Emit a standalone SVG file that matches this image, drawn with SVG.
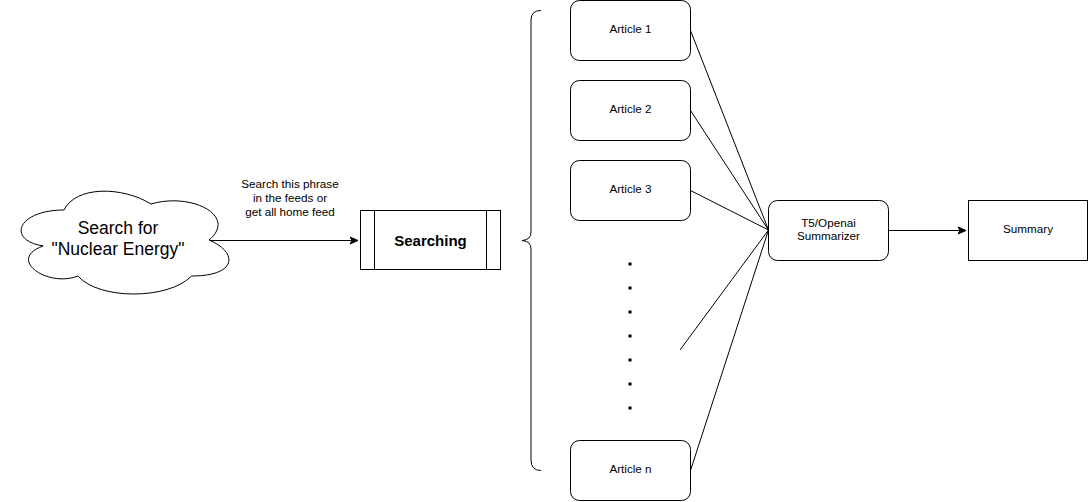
<svg xmlns="http://www.w3.org/2000/svg" width="1089" height="502" viewBox="0 0 1089 502">
<style>
.shape{fill:#fff;stroke:#000;stroke-width:1}
.t{font-family:"Liberation Sans",Arial,sans-serif;fill:#000;text-anchor:middle}
.s{font-size:11.7px}
.edge{fill:none;stroke:#000;stroke-width:1}
</style>
<defs>
<marker id="arr" markerWidth="10" markerHeight="10" refX="8" refY="5" orient="auto" markerUnits="userSpaceOnUse">
<path d="M0,1.5 L8,5 L0,8.5 L2,5 Z" fill="#000" stroke="#000" stroke-width="1"/>
</marker>
</defs>
<rect width="1089" height="502" fill="#fff"/>
<g id="connectors">
<path class="edge" d="M209,240.5 L358,240.5" marker-end="url(#arr)"/>
<path class="edge" d="M888,230.5 L966,230.5" marker-end="url(#arr)"/>
<path class="edge" d="M690.5,30.5 L768.5,230"/>
<path class="edge" d="M690.5,110.5 L768.5,230"/>
<path class="edge" d="M690.5,190.5 L768.5,230"/>
<path class="edge" d="M680,350 L768.5,230"/>
<path class="edge" d="M690.5,470.5 L768.5,230"/>
<text class="t s" x="290" y="187.5">Search this phrase</text>
<text class="t s" x="290" y="201.5">in the feeds or</text>
<text class="t s" x="290" y="215.5">get all home feed</text>
</g>
<g id="cloud">
<path class="shape" d="M64,210 C17.6,210 6,240 43.1,246 C6,259.2 47.8,288 77.9,276 C98.8,300 168.4,300 191.6,276 C238,276 238,252 209,240 C238,216 191.6,192 151,204 C122,186 75.6,186 64,210 Z"/>
<text class="t" x="118" y="234" font-size="17.5">Search for</text>
<text class="t" x="118" y="255" font-size="17.5">"Nuclear Energy"</text>
</g>
<g id="searching">
<rect class="shape" x="360.5" y="210.5" width="140" height="59"/>
<line class="edge" x1="374.5" y1="210.5" x2="374.5" y2="269.5"/>
<line class="edge" x1="486.5" y1="210.5" x2="486.5" y2="269.5"/>
<text class="t" x="430.5" y="245.5" font-size="15" font-weight="bold">Searching</text>
</g>
<g id="brace">
<path class="edge" d="M541,10.5 Q531,10.5 531,20 L531,232 Q531,240 522,240.5 Q531,241 531,249 L531,460 Q531,470.5 541,470.5"/>
</g>
<g id="article1">
<rect class="shape" x="570.5" y="0.5" width="120" height="60" rx="9"/>
<text class="t s" x="630.5" y="33">Article 1</text>
</g>
<g id="article2">
<rect class="shape" x="570.5" y="80.5" width="120" height="60" rx="9"/>
<text class="t s" x="630.5" y="113">Article 2</text>
</g>
<g id="article3">
<rect class="shape" x="570.5" y="160.5" width="120" height="60" rx="9"/>
<text class="t s" x="630.5" y="193">Article 3</text>
</g>
<g id="dots">
<rect x="628.5" y="262.5" width="3" height="3"/>
<rect x="628.5" y="286.5" width="3" height="3"/>
<rect x="628.5" y="310.5" width="3" height="3"/>
<rect x="628.5" y="334.5" width="3" height="3"/>
<rect x="628.5" y="358.5" width="3" height="3"/>
<rect x="628.5" y="382.5" width="3" height="3"/>
<rect x="628.5" y="406.5" width="3" height="3"/>
</g>
<g id="articlen">
<rect class="shape" x="570.5" y="440.5" width="120" height="60" rx="9"/>
<text class="t s" x="630.5" y="473">Article n</text>
</g>
<g id="summarizer">
<rect class="shape" x="768.5" y="200.5" width="120" height="60" rx="9"/>
<text class="t s" x="828.5" y="226.5">T5/Openai</text>
<text class="t s" x="828.5" y="240">Summarizer</text>
</g>
<g id="summary">
<rect class="shape" x="968.5" y="200.5" width="119" height="60"/>
<text class="t s" x="1028" y="233">Summary</text>
</g>
</svg>
